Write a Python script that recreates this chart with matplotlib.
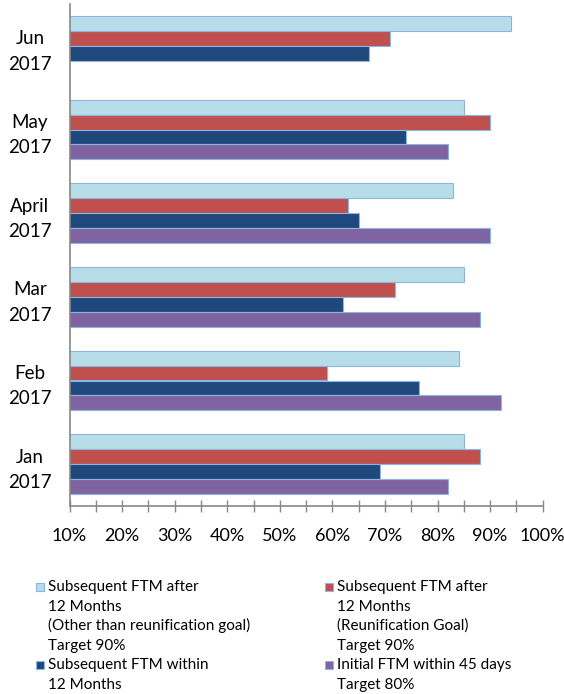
import matplotlib.pyplot as plt
from matplotlib.patches import Rectangle
import numpy as np

months = ["Jun\n2017", "May\n2017", "April\n2017", "Mar\n2017", "Feb\n2017", "Jan\n2017"]

# values in %, one list per series (top to bottom in each group)
after_other = [94, 85, 83, 85, 84, 85]
after_reunif = [71, 90, 63, 72, 59, 88]
within_12 = [67, 74, 65, 62, 76.5, 69]
initial_45 = [np.nan, 82, 90, 88, 92, 82]

series_labels = [
    "Subsequent FTM after\n12 Months\n(Other than reunification goal)\nTarget 90%",
    "Subsequent FTM after\n12 Months\n(Reunification Goal)\nTarget 90%",
    "Subsequent FTM within\n12 Months",
    "Initial FTM within 45 days\nTarget 80%",
]
colors = ["#B7DEE8", "#C0504D", "#1F497D", "#8064A2"]
edge = "#8EB4E3"

plt.rcParams['font.family'] = ['Lato', 'DejaVu Sans']

W, H = 564, 694
fig = plt.figure(figsize=(W / 100, H / 100), dpi=100)
ax = fig.add_axes([69.5 / W, 1 - 506 / H, (542.7 - 69.5) / W, (506 - 4) / H])

y = np.arange(len(months))
h = 60 / 84 / 4
all_series = [after_other, after_reunif, within_12, initial_45]
for k, (vals, c) in enumerate(zip(all_series, colors)):
    ax.barh(y + (k - 1.5) * h, vals, height=h, color=c, edgecolor=edge, linewidth=0.8)

ax.set_xlim(10, 100)
ax.set_ylim(len(months) - 0.5, -0.5)
ax.set_xticks(np.arange(10, 101, 10))
ax.set_xticks(np.arange(15, 100, 10), minor=True)
ax.set_xticklabels([f"{v}%" for v in range(10, 101, 10)], fontsize=13)
ax.set_yticks(y)
ax.set_yticklabels(months, fontsize=13.5, linespacing=1.6, ha='center')
ax.tick_params(axis='y', length=0, pad=28.5)
ax.tick_params(axis='x', which='both', direction='inout', length=9, color='#888888', width=1, pad=11)
for s in ['top', 'right']:
    ax.spines[s].set_visible(False)
for s in ['left', 'bottom']:
    ax.spines[s].set_color('#888888')
    ax.spines[s].set_linewidth(1.2)

# legend drawn by hand: two columns, square beside first line
def px(x, yy):
    return x / W, 1 - yy / H

line_h = 19.6
legend_pos = [(36, 591), (325, 591), (36, 591 + 4 * line_h), (325, 591 + 4 * line_h)]
for (lx, ly), lab, c in zip(legend_pos, series_labels, colors):
    fx, fy = px(lx, ly)
    fig.patches.append(Rectangle((fx, fy), 8 / W, 8 / H, transform=fig.transFigure,
                                 facecolor=c, edgecolor=edge, linewidth=0.8))
    for i, line in enumerate(lab.split("\n")):
        tx, ty = px(lx + 12, ly + i * line_h)
        fig.text(tx, ty, line, fontsize=11, va='baseline', ha='left')

fig.savefig("out.png", dpi=100)
